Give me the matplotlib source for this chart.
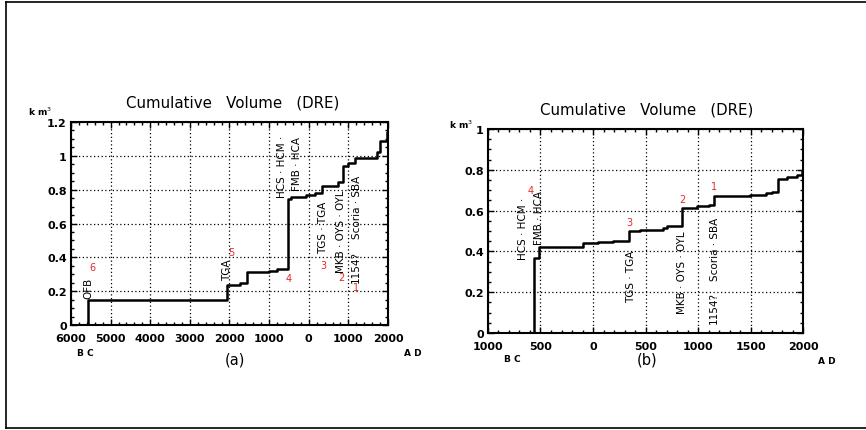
#!/usr/bin/env python3
# -*- coding: utf-8 -*-
# Cumulative erupted volume (DRE), two panels: (a) since 6000 BC, (b) since 1000 BC

import matplotlib
matplotlib.use("Agg")
import matplotlib.pyplot as plt
from matplotlib.ticker import MultipleLocator
from matplotlib.lines import Line2D

# ---- datos panel (a): año (negativo = BC) y volumen acumulado km3
years_a = [-5570, -5570, -2060, -1730, -1560, -1000, -800, -520, -450, -60, 150,
           330, 740, 870, 1000, 1170, 1730, 1800, 1980, 2000]
vol_a = [0.0, 0.147, 0.235, 0.248, 0.313, 0.320, 0.330, 0.745, 0.757, 0.770, 0.780,
         0.820, 0.845, 0.940, 0.960, 0.990, 1.020, 1.090, 1.140, 1.140]

# ---- datos panel (b)
years_b = [-559, -559, -514, -100, 50, 190, 346, 450, 667, 700, 851, 990, 1100,
           1152, 1495, 1648, 1700, 1759, 1845, 1940, 1988, 2000]
vol_b = [0.0, 0.366, 0.423, 0.441, 0.448, 0.452, 0.500, 0.505, 0.513, 0.524, 0.614,
         0.624, 0.629, 0.673, 0.676, 0.686, 0.690, 0.755, 0.763, 0.775, 0.796, 0.796]

# ---- etiquetas de erupciones (texto vertical): texto, año, valor
events_a = [("OFB", -5550, 0.225), ("TGA", -2050, 0.33),
            ("HCS · HCM ·", -670, 0.94), ("FMB · HCA", -290, 0.96),
            ("TGS · TGA", 364, 0.58), ("MKB · OYS · OYL", 818, 0.556),
            ("1154?", 1197, 0.35), ("Scoria · SBA", 1222, 0.70)]
events_b = [("HCS · HCM ·", -667, 0.515), ("FMB · HCA", -514, 0.57),
            ("TGS · TGA", 359, 0.28), ("MKB · OYS · OYL", 845, 0.30),
            ("1154?", 1152, 0.13), ("Scoria · SBA", 1162, 0.414)]

# ---- números rojos
numbers_a = [("6", -5470, 0.34), ("5", -1960, 0.43), ("4", -520, 0.28),
             ("3", 364, 0.355), ("2", 818, 0.284), ("1", 1190, 0.225)]
numbers_b = [("4", -593, 0.70), ("3", 343, 0.545), ("2", 854, 0.657),
             ("1", 1152, 0.72)]

# ---- ticks
xticks_a = [-6000, -5000, -4000, -3000, -2000, -1000, 0, 1000, 2000]
xlabels_a = ["6000", "5000", "4000", "3000", "2000", "1000", "0", "1000", "2000"]
yticks_a = [0, 0.2, 0.4, 0.6, 0.8, 1.0, 1.2]
ylabels_a = ["0", "0.2", "0.4", "0.6", "0.8", "1", "1.2"]

xticks_b = [-1000, -500, 0, 500, 1000, 1500, 2000]
xlabels_b = ["1000", "500", "0", "500", "1000", "1500", "2000"]
yticks_b = [0, 0.2, 0.4, 0.6, 0.8, 1.0]
ylabels_b = ["0", "0.2", "0.4", "0.6", "0.8", "1"]

RED = "#e8262b"


def style_axes(ax, xticks, xlabels, yticks, ylabels, xminor, yminor):
    ax.set_xticks(xticks)
    ax.set_xticklabels(xlabels, fontsize=8, fontweight="bold")
    ax.set_yticks(yticks)
    ax.set_yticklabels(ylabels, fontsize=8, fontweight="bold")
    ax.xaxis.set_minor_locator(MultipleLocator(xminor))
    ax.yaxis.set_minor_locator(MultipleLocator(yminor))
    ax.tick_params(which="both", direction="in", top=True, right=True, width=1.0)
    ax.tick_params(which="major", length=4)
    ax.tick_params(which="minor", length=2.5)
    ax.tick_params(axis="x", pad=6)
    ax.tick_params(axis="y", pad=3)
    ax.grid(True, which="major", linestyle=(0, (1, 2)), color="black", linewidth=0.9)
    for s in ax.spines.values():
        s.set_linewidth(1.5)


def draw_panel(ax, years, vol, events, numbers):
    ax.plot(years, vol, drawstyle="steps-post", color="black", linewidth=1.8)
    for texto, x, y in events:
        ax.text(x, y, texto, rotation=90, ha="center", va="center", fontsize=7.5)
    for texto, x, y in numbers:
        ax.text(x, y, texto, ha="center", va="center", fontsize=7, color=RED)


def main():
    fig = plt.figure(figsize=(8.66, 4.31), dpi=100)

    # marco de la página
    fig.add_artist(Line2D([0.007, 0.007], [0.005, 0.993], transform=fig.transFigure,
                          color="black", linewidth=1.2))
    fig.add_artist(Line2D([0.007, 1.0], [0.993, 0.993], transform=fig.transFigure,
                          color="black", linewidth=1.2))
    fig.add_artist(Line2D([0.007, 1.0], [0.005, 0.005], transform=fig.transFigure,
                          color="black", linewidth=1.2))

    # panel (a)
    ax1 = fig.add_axes([0.082, 0.2436, 0.366, 0.471])
    draw_panel(ax1, years_a, vol_a, events_a, numbers_a)
    ax1.set_xlim(-6000, 2000)
    ax1.set_ylim(0, 1.2)
    style_axes(ax1, xticks_a, xlabels_a, yticks_a, ylabels_a, 200, 0.05)
    ax1.text(0.51, 1.098, "Cumulative   Volume   (DRE)", transform=ax1.transAxes,
             ha="center", va="center", fontsize=10.8)
    ax1.text(-0.098, 1.054, "k m$^3$", transform=ax1.transAxes, ha="center",
             va="center", fontsize=6.5, fontweight="bold")
    ax1.text(0.044, -0.133, "B C", transform=ax1.transAxes, ha="center",
             va="center", fontsize=6.5, fontweight="bold")
    ax1.text(1.079, -0.133, "A D", transform=ax1.transAxes, ha="center",
             va="center", fontsize=6.5, fontweight="bold")
    ax1.text(0.517, -0.165, "(a)", transform=ax1.transAxes, ha="center",
             va="center", fontsize=10.5)

    # panel (b)
    ax2 = fig.add_axes([0.5635, 0.225, 0.3638, 0.4733])
    draw_panel(ax2, years_b, vol_b, events_b, numbers_b)
    ax2.set_xlim(-1000, 2000)
    ax2.set_ylim(0, 1.0)
    style_axes(ax2, xticks_b, xlabels_b, yticks_b, ylabels_b, 100, 0.05)
    ax2.text(0.505, 1.098, "Cumulative   Volume   (DRE)", transform=ax2.transAxes,
             ha="center", va="center", fontsize=10.8)
    ax2.text(-0.085, 1.024, "k m$^3$", transform=ax2.transAxes, ha="center",
             va="center", fontsize=6.5, fontweight="bold")
    ax2.text(0.076, -0.127, "B C", transform=ax2.transAxes, ha="center",
             va="center", fontsize=6.5, fontweight="bold")
    ax2.text(1.076, -0.137, "A D", transform=ax2.transAxes, ha="center",
             va="center", fontsize=6.5, fontweight="bold")
    ax2.text(0.505, -0.125, "(b)", transform=ax2.transAxes, ha="center",
             va="center", fontsize=10.5)

    fig.savefig("out.png", dpi=100)


if __name__ == '__main__':
    main()
